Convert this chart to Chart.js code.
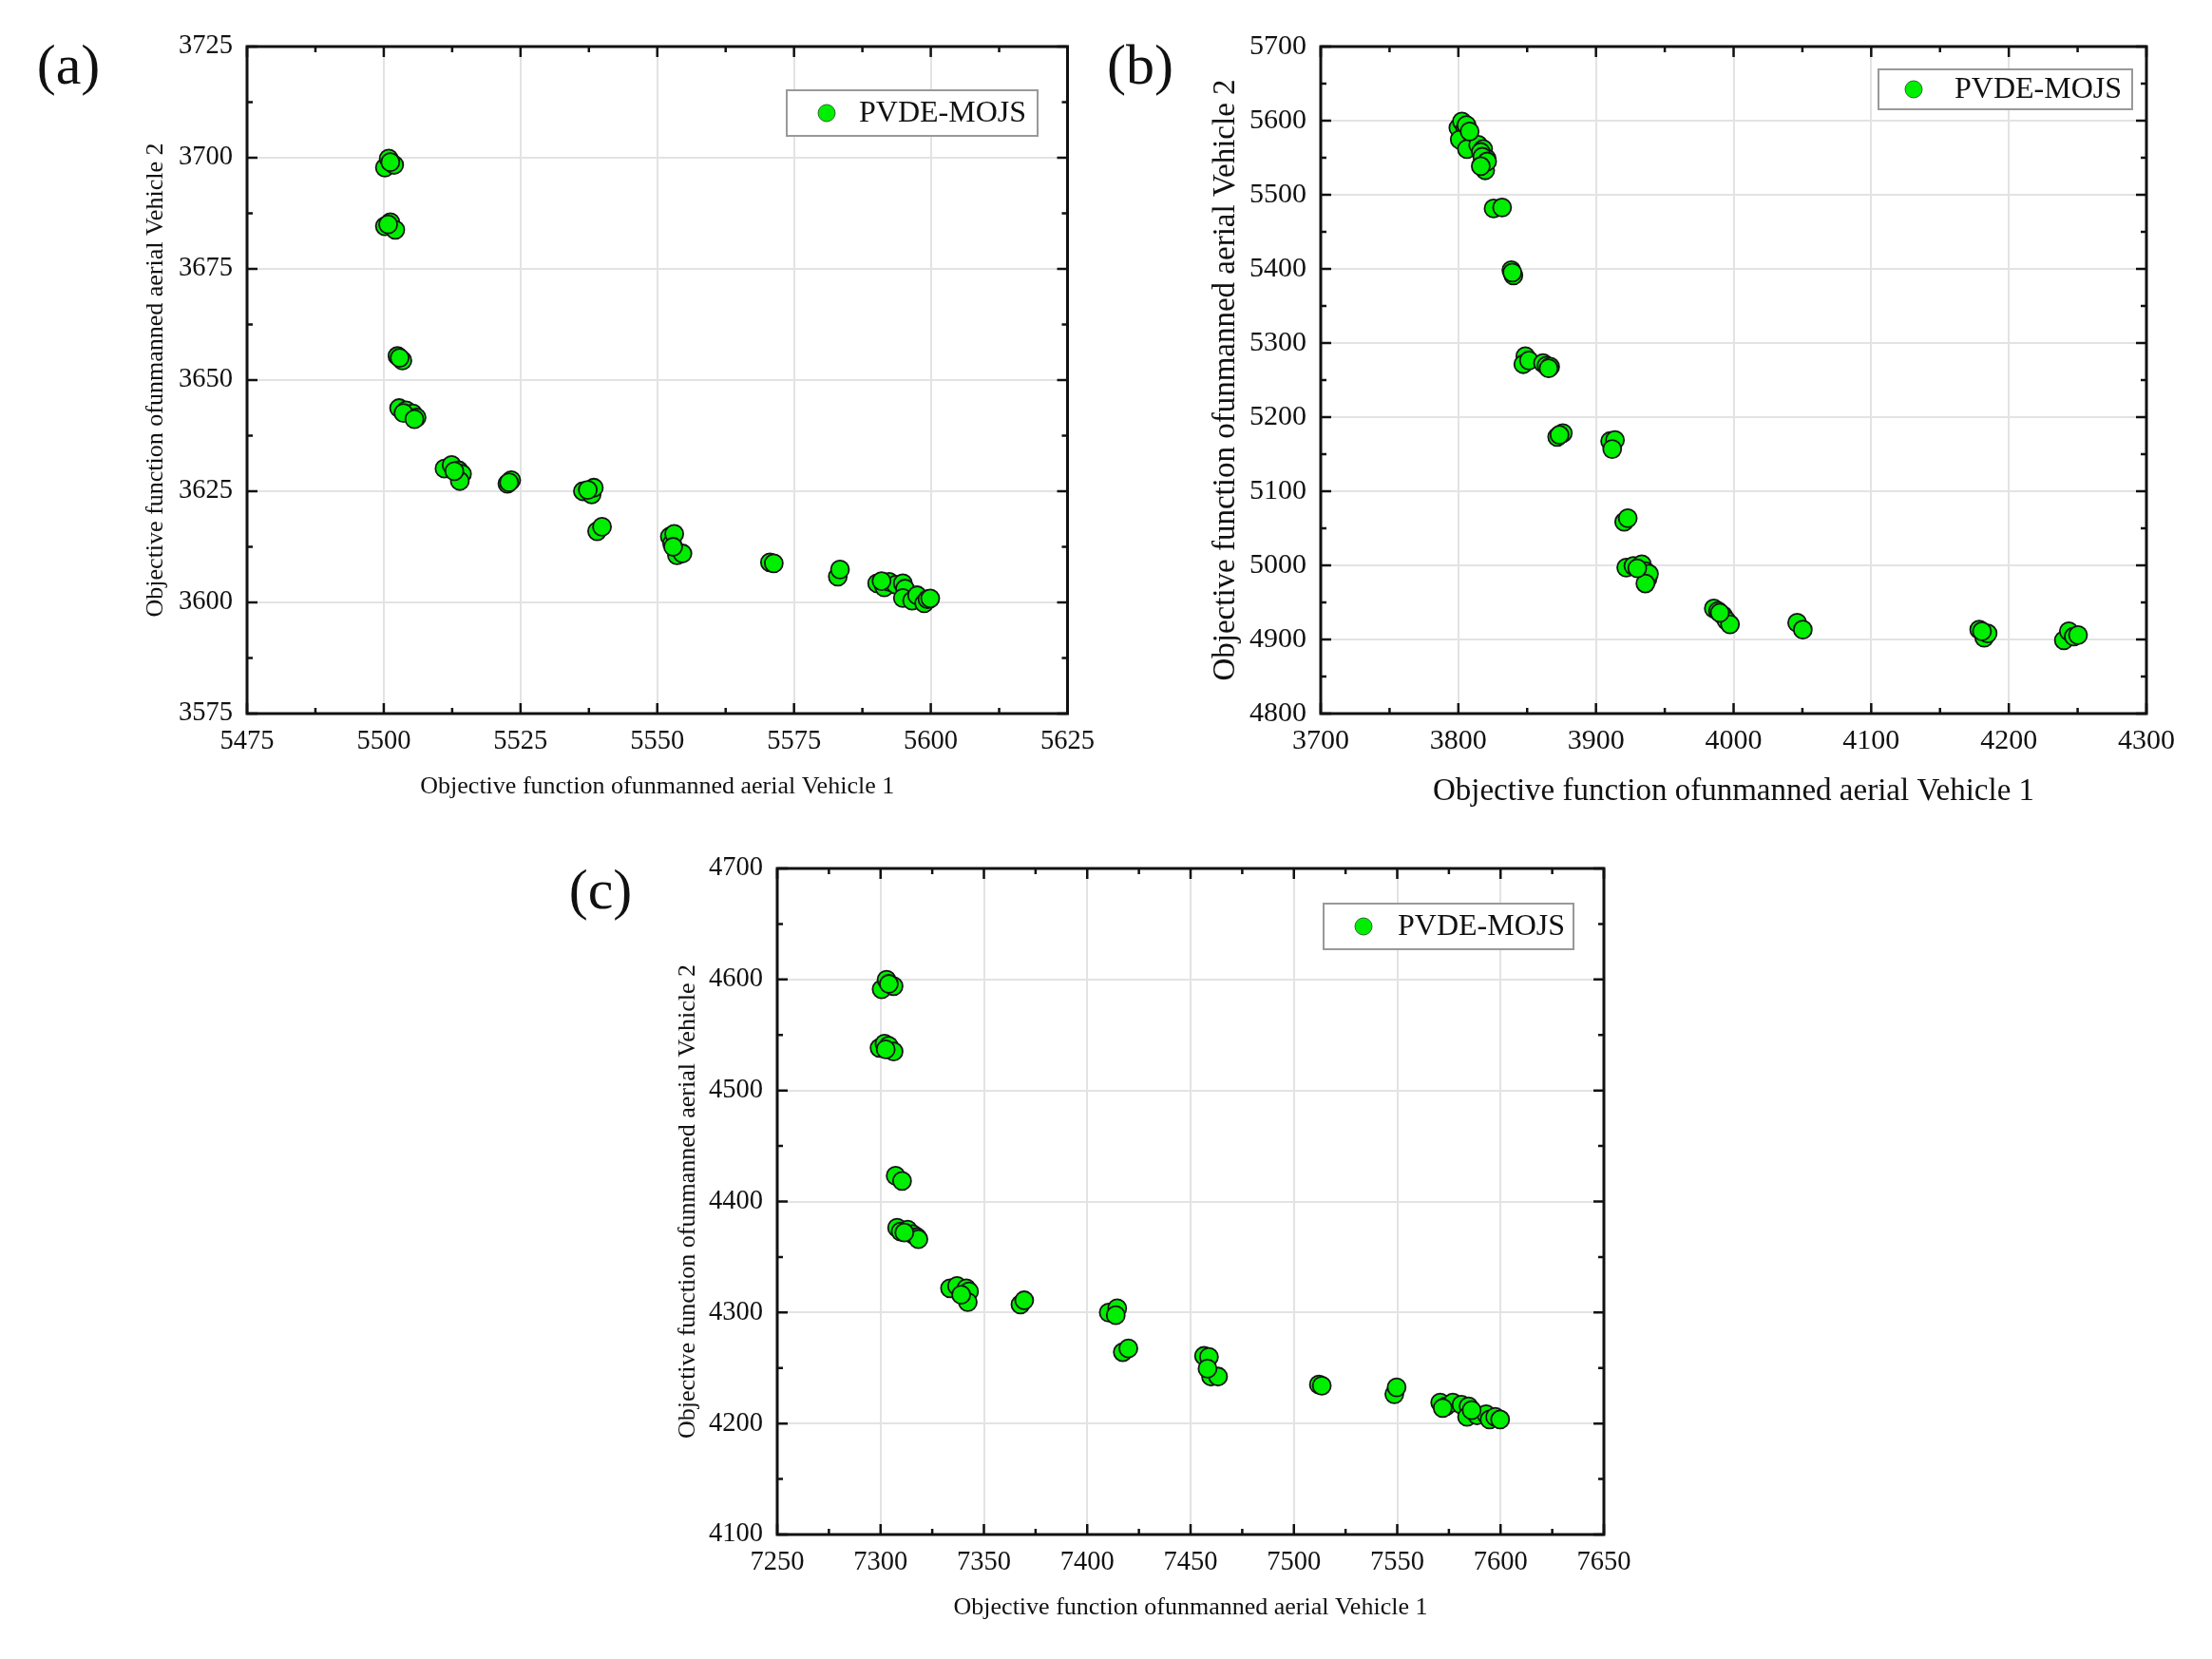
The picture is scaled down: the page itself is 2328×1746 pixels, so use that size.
<!DOCTYPE html>
<html><head><meta charset="utf-8">
<script src="https://cdn.jsdelivr.net/npm/chart.js@4.4.1/dist/chart.umd.min.js"></script>
<style>
html,body{margin:0;padding:0;background:#fff;}
body{width:2328px;height:1746px;position:relative;overflow:hidden;}
canvas{position:absolute;}
</style></head><body>
<canvas id="ca" width="1164" height="873" style="left:0;top:0;width:1164px;height:873px"></canvas>
<canvas id="cb" width="1164" height="873" style="left:1164px;top:0;width:1164px;height:873px"></canvas>
<canvas id="cc" width="1164" height="873" style="left:580px;top:873px;width:1164px;height:873px"></canvas>
<script>
const seriesName = 'PVDE-MOJS';
const xTitle = 'Objective function ofunmanned aerial Vehicle 1';
const yTitle = 'Objective function ofunmanned aerial Vehicle 2';
const panelLabels = ['(a)', '(b)', '(c)'];

// Panel (a)
const aV1 = [5500.2,5500.9,5501.9,5501.2,5500.2,5501.2,5502.1,5500.8,5502.5,5503.4,5502.9,5502.8,5504.1,5505.3,5506.0,5503.6,5505.6,5511.1,5512.4,5513.7,5514.3,5513.9,5512.9,5522.6,5523.3,5522.9,5536.4,5538.0,5538.4,5537.3,5539.0,5539.9,5552.3,5552.7,5553.1,5553.6,5554.6,5552.9,5570.6,5571.3,5583.0,5583.4,5590.2,5591.5,5592.4,5593.6,5594.9,5595.3,5594.9,5596.6,5597.5,5598.8,5599.4,5591.0,5599.9];
const aV2 = [3697.8,3699.8,3698.4,3699.0,3684.6,3685.5,3683.8,3685.0,3655.4,3654.4,3655.0,3643.7,3643.2,3642.5,3641.6,3642.6,3641.2,3630.1,3630.9,3629.7,3628.9,3627.3,3629.5,3626.7,3627.5,3627.0,3625.0,3624.3,3625.8,3625.3,3616.0,3617.0,3614.8,3613.3,3615.4,3610.6,3611.0,3612.5,3609.0,3608.8,3605.8,3607.4,3604.3,3603.4,3604.6,3604.0,3604.3,3603.1,3601.0,3600.4,3601.6,3599.8,3600.7,3604.8,3600.9];
const aXTicks = [5475,5500,5525,5550,5575,5600,5625];
const aYTicks = [3575,3600,3625,3650,3675,3700,3725];

// Panel (b)
const bV1 = [3800.0,3802.6,3805.1,3801.0,3806.2,3814.4,3818.0,3820.5,3816.9,3819.5,3805.9,3808.2,3816.3,3817.4,3820.9,3816.3,3825.6,3831.8,3838.5,3840.0,3839.2,3848.7,3847.2,3851.3,3861.5,3864.1,3866.7,3865.6,3871.8,3875.9,3873.5,3910.3,3913.8,3911.8,3920.5,3923.1,3922.0,3927.2,3933.3,3935.9,3937.4,3938.5,3935.9,3930.0,3985.6,3988.7,3992.3,3994.9,3997.4,3990.0,4046.2,4050.3,4178.5,4182.1,4184.6,4180.5,4240.0,4243.6,4247.2,4250.3];
const bV2 = [5590.4,5599.0,5588.9,5574.6,5561.7,5567.4,5561.7,5548.8,5540.2,5533.0,5594.0,5585.5,5557.7,5551.3,5544.9,5538.5,5481.5,5482.9,5398.3,5391.2,5395.0,5282.3,5271.5,5276.5,5273.0,5269.4,5268.0,5265.8,5173.3,5178.4,5176.0,5167.6,5169.0,5156.9,5058.7,5063.7,4997.0,4999.2,5001.4,4992.1,4981.3,4988.5,4975.6,4996.0,4941.9,4938.3,4932.6,4925.4,4920.4,4936.0,4922.5,4913.3,4913.3,4902.5,4908.2,4911.0,4898.9,4911.1,4903.9,4906.0];
const bXTicks = [3700,3800,3900,4000,4100,4200,4300];
const bYTicks = [4800,4900,5000,5100,5200,5300,5400,5500,5600,5700];

// Panel (c)
const cV1 = [7300.5,7302.9,7306.3,7304.0,7299.5,7301.9,7303.9,7306.3,7302.5,7307.3,7310.4,7308.0,7309.7,7313.1,7315.5,7317.6,7318.3,7311.5,7333.6,7337.0,7341.5,7342.8,7342.2,7339.0,7367.7,7369.5,7410.4,7414.5,7413.8,7417.2,7419.9,7456.5,7458.9,7459.9,7463.3,7458.2,7512.1,7513.5,7548.6,7549.7,7570.8,7573.5,7576.9,7581.1,7584.5,7583.8,7588.6,7593.0,7594.7,7597.4,7599.8,7586.0,7572.0];
const cV2 = [4591.2,4599.8,4594.0,4596.0,4538.4,4542.2,4540.2,4535.1,4537.0,4423.2,4418.5,4376.3,4373.0,4374.6,4370.5,4367.9,4366.0,4372.0,4321.8,4323.9,4321.8,4319.0,4309.4,4316.0,4307.2,4311.0,4300.0,4303.8,4297.6,4264.3,4267.6,4260.9,4260.0,4242.3,4242.3,4249.4,4235.1,4234.1,4226.4,4232.6,4218.9,4215.5,4218.9,4216.9,4215.5,4206.0,4207.4,4208.4,4203.6,4206.0,4203.6,4212.0,4214.0];
const cXTicks = [7250,7300,7350,7400,7450,7500,7550,7600,7650];
const cYTicks = [4100,4200,4300,4400,4500,4600,4700];

const FONT = 'Liberation Serif, Times New Roman, serif';
const GREEN = '#00ee00';
const EDGE = '#151515';

const framePlugin = {
  id: 'frame',
  afterDraw(chart, args, o) {
    const ctx = chart.ctx, a = chart.chartArea;
    const xs = chart.scales.x, ys = chart.scales.y;
    const xt = xs.ticks.map(t => t.value), yt = ys.ticks.map(t => t.value);
    const mids = arr => arr.slice(0, -1).map((v, i) => (v + arr[i + 1]) / 2);
    ctx.save();
    ctx.strokeStyle = '#111';
    ctx.lineWidth = 2.5;
    ctx.beginPath();
    const tx = (v, len) => { const p = xs.getPixelForValue(v); ctx.moveTo(p, a.bottom); ctx.lineTo(p, a.bottom - len); ctx.moveTo(p, a.top); ctx.lineTo(p, a.top + len); };
    const ty = (v, len) => { const p = ys.getPixelForValue(v); ctx.moveTo(a.left, p); ctx.lineTo(a.left + len, p); ctx.moveTo(a.right, p); ctx.lineTo(a.right - len, p); };
    xt.forEach(v => tx(v, 11)); mids(xt).forEach(v => tx(v, 6));
    yt.forEach(v => ty(v, 11)); mids(yt).forEach(v => ty(v, 6));
    ctx.stroke();
    ctx.lineWidth = 3;
    ctx.strokeRect(a.left, a.top, a.right - a.left, a.bottom - a.top);
    // legend
    const L = o.legend;
    ctx.fillStyle = '#fff';
    ctx.fillRect(L.x, L.y, L.w, L.h);
    ctx.strokeStyle = '#999';
    ctx.lineWidth = 2;
    ctx.strokeRect(L.x, L.y, L.w, L.h);
    ctx.beginPath();
    ctx.arc(L.mx, L.y + L.h / 2, 9, 0, Math.PI * 2);
    ctx.fillStyle = GREEN; ctx.fill();
    ctx.strokeStyle = '#2a6a2a'; ctx.lineWidth = 1; ctx.stroke();
    ctx.fillStyle = '#111';
    ctx.font = L.fs + 'px ' + FONT;
    ctx.textBaseline = 'middle';
    ctx.textAlign = 'left';
    ctx.fillText(seriesName, L.tx, L.y + L.h / 2 + 1);
    // panel label
    ctx.font = '60px ' + FONT;
    ctx.textAlign = 'center';
    ctx.fillText(o.label, o.lx, o.ly);
    ctx.restore();
  }
};

function makePanel(id, v1, v2, xTicks, yTicks, lay) {
  const pts = v1.map((x, i) => ({x: x, y: v2[i]}));
  const tf = {family: FONT, size: lay.tickFs};
  const tt = {family: FONT, size: lay.titleFs};
  new Chart(document.getElementById(id), {
    type: 'scatter',
    data: {datasets: [{label: seriesName, data: pts, pointRadius: 9.5, pointHoverRadius: 9.5,
      backgroundColor: GREEN, borderColor: EDGE, borderWidth: 1.8}]},
    plugins: [framePlugin],
    options: {
      responsive: false, animation: false, devicePixelRatio: 1,
      events: [],
      layout: {padding: {left: 0, top: lay.top, right: lay.right, bottom: 0}},
      plugins: {legend: {display: false}, tooltip: {enabled: false},
        frame: {legend: lay.legend, label: lay.label, lx: lay.lx, ly: lay.ly}},
      scales: {
        x: {type: 'linear', position: 'bottom', min: xTicks[0], max: xTicks[xTicks.length - 1],
          afterBuildTicks: s => { s.ticks = xTicks.map(v => ({value: v})); },
          afterFit: s => { s.height = lay.xH; },
          ticks: {font: tf, color: '#111', padding: lay.xPad, maxRotation: 0, autoSkip: false, callback: v => String(v)},
          grid: {color: '#e3e3e3', lineWidth: 2, drawTicks: false},
          border: {display: false},
          title: {display: true, text: xTitle, color: '#111', font: tt, padding: {top: 0, bottom: lay.xtPad}}},
        y: {type: 'linear', position: 'left', min: yTicks[0], max: yTicks[yTicks.length - 1],
          afterBuildTicks: s => { s.ticks = yTicks.map(v => ({value: v})); },
          afterFit: s => { s.width = lay.yW; },
          ticks: {font: tf, color: '#111', padding: lay.yPad, autoSkip: false, callback: v => String(v)},
          grid: {color: '#e3e3e3', lineWidth: 2, drawTicks: false},
          border: {display: false},
          title: {display: true, text: yTitle, color: '#111', font: tt, padding: {top: lay.ytPad, bottom: 0}}}
      }
    }
  });
}

makePanel('ca', aV1, aV2, aXTicks, aYTicks, {
  top: 49, right: 32, xH: 122, yW: 260, tickFs: 28.5, titleFs: 26,
  xPad: 12, yPad: 15, xtPad: 29, ytPad: 149,
  legend: {x: 828, y: 95, w: 264, h: 48, mx: 870, tx: 904, fs: 32},
  label: panelLabels[0], lx: 72, ly: 72
});
makePanel('cb', bV1, bV2, bXTicks, bYTicks, {
  top: 49, right: 69, xH: 122, yW: 226, tickFs: 30, titleFs: 33,
  xPad: 11, yPad: 15, xtPad: 20, ytPad: 107,
  legend: {x: 813, y: 73, w: 267, h: 42, mx: 850, tx: 893, fs: 32},
  label: panelLabels[1], lx: 36, ly: 72
});
makePanel('cc', cV1, cV2, cXTicks, cYTicks, {
  top: 41, right: 56, xH: 131, yW: 238, tickFs: 28.5, titleFs: 26,
  xPad: 12, yPad: 15, xtPad: 38, ytPad: 129,
  legend: {x: 813, y: 78, w: 263, h: 48, mx: 855, tx: 891, fs: 32},
  label: panelLabels[2], lx: 52, ly: 67
});
</script>
</body></html>
